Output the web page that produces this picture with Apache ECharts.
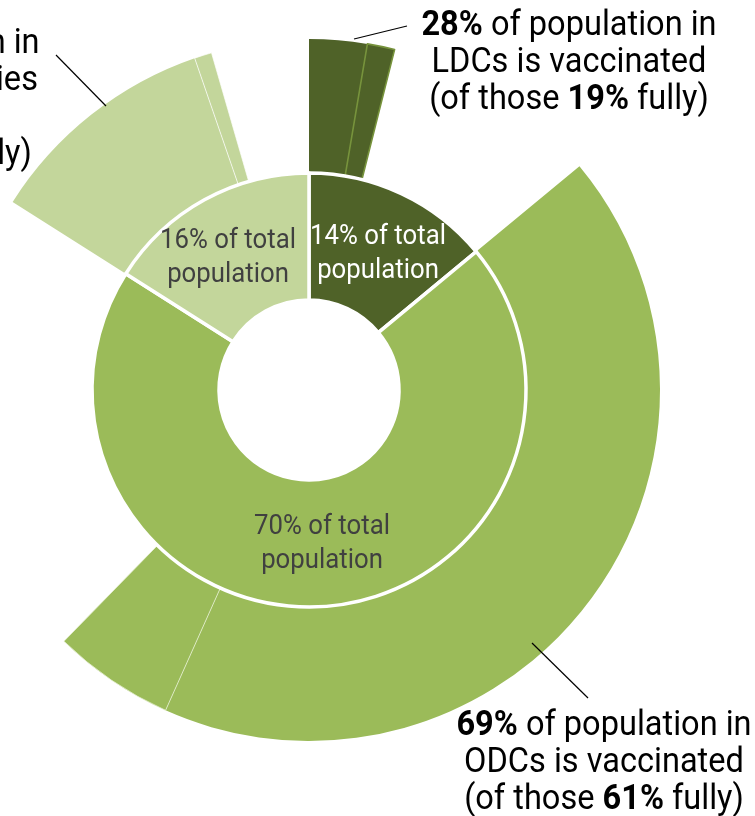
<!DOCTYPE html>
<html>
<head>
<meta charset="utf-8">
<script src="https://cdn.jsdelivr.net/npm/echarts@6/dist/echarts.min.js"></script>
<style>
html,body{margin:0;padding:0;background:#fff;}
#chart{width:755px;height:816px;}
</style>
</head>
<body>
<div id="chart"></div>
<script>
// ---- data ----
const groups = ['LDCs', 'ODCs', 'developed countries'];
const populationShare = [14, 70, 16];      // % of total population
const vaccinatedShare = [28, 69, 72];      // % of group population vaccinated (at least partly)
const fullyShare = [19, 61, 67];           // % of group population fully vaccinated

// ---- styles ----
const groupColors = ['#4f6228', '#9bbb59', '#c3d69b'];
const innerTextColors = ['#ffffff', '#404040', '#404040'];
const partialBorder = ['#77933c', 'rgba(230,240,210,0.8)', 'rgba(255,255,255,0.7)'];
const FONT = 'Roboto, "Noto Sans", sans-serif';

const cx = 309, cy = 390;

// inner ring
const innerData = groups.map((g, i) => ({
  name: g,
  value: populationShare[i],
  itemStyle: { color: groupColors[i] }
}));

// outer ring: fully, partially, unvaccinated (transparent) per group
const outerData = [];
groups.forEach((g, i) => {
  const p = populationShare[i];
  const fully = p * fullyShare[i] / 100;
  const partial = p * (vaccinatedShare[i] - fullyShare[i]) / 100;
  const none = p * (100 - vaccinatedShare[i]) / 100;
  outerData.push({ name: g + ' fully', value: fully, itemStyle: { color: groupColors[i], borderWidth: 0 } });
  outerData.push({ name: g + ' partially', value: partial, itemStyle: { color: groupColors[i], borderColor: partialBorder[i], borderWidth: i === 0 ? 1.6 : 1 } });
  outerData.push({ name: g + ' not vaccinated', value: none, itemStyle: { color: 'rgba(0,0,0,0)', borderWidth: 0 } });
});

// ---- text ----
const rich = (size, lh, color) => ({
  n: { fontSize: size, lineHeight: lh, fontFamily: FONT, fontWeight: 'normal', fill: color },
  b: { fontSize: size, lineHeight: lh, fontFamily: FONT, fontWeight: 'bold', fill: color }
});

function outerLabel(i) {
  const lines = i === 2
    ? ['{b|' + vaccinatedShare[i] + '%}{n| of population in}', '{n|' + groups[i] + '}', '{n|is vaccinated}', '{n|(of those }{b|' + fullyShare[i] + '%}{n| fully)}']
    : ['{b|' + vaccinatedShare[i] + '%}{n| of population in}', '{n|' + groups[i] + ' is vaccinated}', '{n|(of those }{b|' + fullyShare[i] + '%}{n| fully)}'];
  return lines.join('\n');
}
function innerLabel(i) {
  return '{n|' + populationShare[i] + '% of total}\n{n|population}';
}

const bigLabelPos = [[569, 8], [604, 708], [-108, 26]];
const innerLabelPos = [[378, 220], [322, 510], [228, 224]];

const graphics = [];
groups.forEach((g, i) => {
  graphics.push({
    type: 'text', x: bigLabelPos[i][0], y: bigLabelPos[i][1], scaleX: 0.93, z: 10,
    style: { text: outerLabel(i), align: 'center', verticalAlign: 'top', rich: rich(35, 37, '#000000') }
  });
  graphics.push({
    type: 'text', x: innerLabelPos[i][0], y: innerLabelPos[i][1], scaleX: 0.92, z: 10,
    style: { text: innerLabel(i), align: 'center', verticalAlign: 'top', rich: rich(28, 34, innerTextColors[i]) }
  });
});
// leader lines
const leaders = [[354, 39, 407, 26], [532, 643, 588, 698], [56, 55, 106, 106]];
leaders.forEach(l => graphics.push({
  type: 'line', z: 10,
  shape: { x1: l[0], y1: l[1], x2: l[2], y2: l[3] },
  style: { stroke: '#000000', lineWidth: 1.2 }
}));

const chart = echarts.init(document.getElementById('chart'));
chart.setOption({
  animation: false,
  backgroundColor: '#ffffff',
  series: [
    {
      type: 'pie', silent: true, startAngle: 90, clockwise: true,
      center: [cx, cy], radius: [216, 351],
      avoidLabelOverlap: false, label: { show: false }, labelLine: { show: false },
      emphasis: { disabled: true },
      data: outerData, z: 1
    },
    {
      type: 'pie', silent: true, startAngle: 90, clockwise: true,
      center: [cx, cy], radius: [90, 217],
      avoidLabelOverlap: false, label: { show: false }, labelLine: { show: false },
      emphasis: { disabled: true },
      itemStyle: { borderColor: '#ffffff', borderWidth: 3.5 },
      data: innerData, z: 2
    }
  ],
  graphic: graphics
});
</script>
</body>
</html>
